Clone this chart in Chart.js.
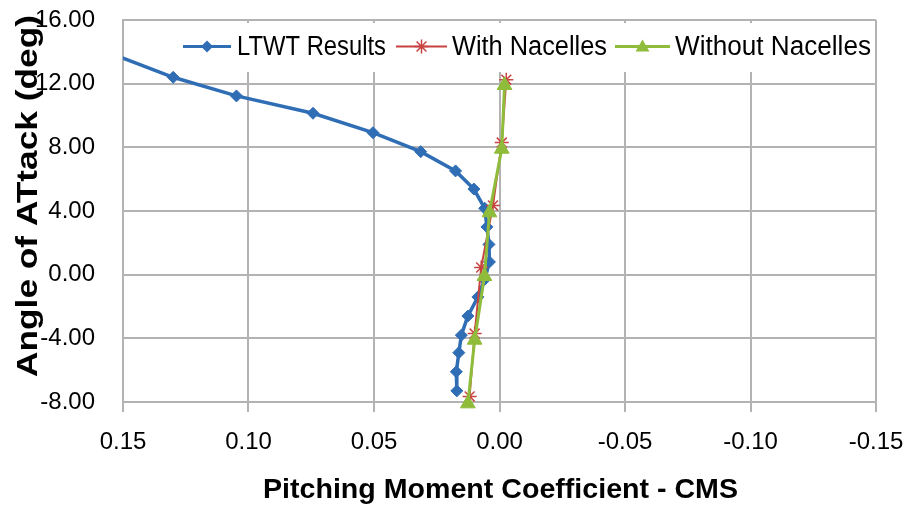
<!DOCTYPE html>
<html>
<head>
<meta charset="utf-8">
<script src="https://cdn.jsdelivr.net/npm/chart.js@4/dist/chart.umd.min.js"></script>
<style>
html,body{margin:0;padding:0;background:#ffffff;}
#wrap{width:906px;height:505px;position:relative;}
canvas{display:block;}
</style>
</head>
<body>
<div id="wrap"><canvas id="c" width="906" height="505" style="width:906px;height:505px"></canvas></div>
<script>
// ---- data ----
const seriesNames = ['LTWT Results', 'With Nacelles', 'Without Nacelles'];

const ltwtCms   = [0.170, 0.130, 0.1048, 0.0743, 0.0504, 0.0314, 0.0175, 0.0102, 0.0059, 0.0050, 0.0042, 0.0040, 0.0059, 0.0086, 0.0126, 0.0152, 0.0162, 0.0172, 0.0170];
const ltwtAlpha = [14.8, 12.40, 11.23, 10.14, 8.92, 7.73, 6.52, 5.38, 4.17, 3.0, 1.9, 0.8, -0.3, -1.4, -2.6, -3.8, -4.9, -6.1, -7.3];

const withNacCms   = [-0.0027, -0.0009, 0.0026, 0.0073, 0.0099, 0.0119];
const withNacAlpha = [12.25, 8.3, 4.35, 0.45, -3.7, -7.65];

const withoutNacCms   = [-0.0020, -0.0009, 0.0040, 0.0060, 0.0099, 0.0126];
const withoutNacAlpha = [11.9, 7.9, 3.9, -0.1, -4.1, -8.1];

const xTicks = [-0.15, -0.10, -0.05, 0.00, 0.05, 0.10, 0.15];
const yTicks = [-8, -4, 0, 4, 8, 12, 16];

const xTitle = 'Pitching Moment Coefficient - CMS';
const yTitle = 'Angle of ATtack (deg)';

// ---- styles ----
const FONT = '"Liberation Sans", Arial, sans-serif';
const BLUE = '#2f6db5';
const RED = '#c8423f';
const GREEN = '#8fbc3a';
const GRID = '#b3b3b3';

function pts(xs, ys) { return xs.map((x, i) => ({x: x, y: ys[i]})); }
function fmt(v) { if (Math.abs(v) < 1e-9) v = 0; return Number(v).toFixed(2); }

function fitText(ctx, text, x, y, width) {
  const m = ctx.measureText(text).width;
  ctx.save();
  ctx.translate(x, y);
  ctx.scale(width / m, 1);
  ctx.fillText(text, 0, 0);
  ctx.restore();
}

function drawMarker(ctx, style, x, y, r, color) {
  ctx.save();
  ctx.fillStyle = color; ctx.strokeStyle = color; ctx.lineWidth = 1.5;
  ctx.beginPath();
  if (style === 'rectRot') {
    ctx.moveTo(x, y - r); ctx.lineTo(x + r, y); ctx.lineTo(x, y + r); ctx.lineTo(x - r, y); ctx.closePath();
    ctx.fill();
  } else if (style === 'triangle') {
    for (let k = 0; k < 3; k++) {
      const ang = k * 2 * Math.PI / 3;
      const px = x + Math.sin(ang) * r, py = y - Math.cos(ang) * r;
      if (k === 0) ctx.moveTo(px, py); else ctx.lineTo(px, py);
    }
    ctx.closePath(); ctx.fill();
  } else if (style === 'star') {
    for (let k = 0; k < 4; k++) {
      const ang = k * Math.PI / 4;
      ctx.moveTo(x + Math.cos(ang) * r, y + Math.sin(ang) * r);
      ctx.lineTo(x - Math.cos(ang) * r, y - Math.sin(ang) * r);
    }
    ctx.stroke();
  }
  ctx.restore();
}

const overlay = {
  id: 'overlay',
  afterDraw(chart) {
    const ctx = chart.ctx;
    ctx.save();
    ctx.fillStyle = '#000000';
    // x axis title
    ctx.font = 'bold 28px ' + FONT;
    ctx.textAlign = 'left'; ctx.textBaseline = 'alphabetic';
    fitText(ctx, xTitle, 263, 498, 475);
    // y axis title (rotated)
    ctx.save();
    ctx.translate(37, 377);
    ctx.rotate(-Math.PI / 2);
    ctx.font = 'bold 29px ' + FONT;
    fitText(ctx, yTitle, 0, 0, 362);
    ctx.restore();

    // legend (inside plot area)
    ctx.fillStyle = '#ffffff';
    ctx.fillRect(176, 23, 697, 49);
    const items = [
      {name: seriesNames[0], color: BLUE, style: 'rectRot', r: 6, lw: 3, x0: 183, x1: 231, tx: 237, tw: 149},
      {name: seriesNames[1], color: RED, style: 'star', r: 7, lw: 2, x0: 396, x1: 447, tx: 452, tw: 155},
      {name: seriesNames[2], color: GREEN, style: 'triangle', r: 8, lw: 3, x0: 615, x1: 670, tx: 675, tw: 196}
    ];
    const ly = 46.5;
    items.forEach(it => {
      ctx.strokeStyle = it.color; ctx.lineWidth = it.lw;
      ctx.beginPath(); ctx.moveTo(it.x0, ly); ctx.lineTo(it.x1, ly); ctx.stroke();
      drawMarker(ctx, it.style, (it.x0 + it.x1) / 2, ly + (it.style === 'triangle' ? 1 : 0), it.r, it.color);
      ctx.fillStyle = '#000000';
      ctx.font = '27px ' + FONT;
      ctx.textAlign = 'left'; ctx.textBaseline = 'alphabetic';
      fitText(ctx, it.name, it.tx, 55, it.tw);
    });
    ctx.restore();
  }
};

const ctx = document.getElementById('c').getContext('2d');
new Chart(ctx, {
  type: 'scatter',
  data: {
    datasets: [
      {
        label: seriesNames[0], data: pts(ltwtCms, ltwtAlpha), showLine: true,
        borderColor: BLUE, backgroundColor: BLUE, borderWidth: 3.5,
        pointStyle: 'rectRot', pointRadius: 6, pointBorderWidth: 1,
        order: 2, clip: {left: 0, top: 12, right: 12, bottom: 12}
      },
      {
        label: seriesNames[1], data: pts(withNacCms, withNacAlpha), showLine: true,
        borderColor: RED, backgroundColor: RED, borderWidth: 2,
        pointStyle: 'star', pointRadius: 7, pointBorderWidth: 1.5,
        order: 1, clip: false
      },
      {
        label: seriesNames[2], data: pts(withoutNacCms, withoutNacAlpha), showLine: true,
        borderColor: GREEN, backgroundColor: GREEN, borderWidth: 3,
        pointStyle: 'triangle', pointRadius: 8.5, pointBorderWidth: 1,
        order: 0, clip: false
      }
    ]
  },
  options: {
    responsive: false,
    animation: false,
    devicePixelRatio: 1,
    layout: {padding: {left: 0, right: 30, top: 20, bottom: 0}},
    plugins: {legend: {display: false}, tooltip: {enabled: false}},
    scales: {
      x: {
        type: 'linear', reverse: true, min: -0.15, max: 0.15,
        afterBuildTicks: s => { s.ticks = xTicks.map(v => ({value: v})); },
        afterFit: s => { s.height = 103; },
        ticks: {callback: v => fmt(v), font: {size: 24, family: FONT}, color: '#000000', padding: 16, maxRotation: 0, autoSkip: false},
        grid: {color: GRID, lineWidth: 2, drawTicks: true, tickLength: 10, tickColor: GRID},
        border: {color: GRID, width: 2}
      },
      y: {
        type: 'linear', min: -8, max: 16,
        afterBuildTicks: s => { s.ticks = yTicks.map(v => ({value: v})); },
        afterFit: s => { s.width = 123; },
        ticks: {callback: v => fmt(v), font: {size: 24, family: FONT}, color: '#000000', padding: 2, autoSkip: false},
        grid: {color: GRID, lineWidth: 2, drawTicks: true, tickLength: 26, tickColor: 'rgba(0,0,0,0)'},
        border: {color: GRID, width: 2}
      }
    }
  },
  plugins: [overlay]
});
</script>
</body>
</html>
